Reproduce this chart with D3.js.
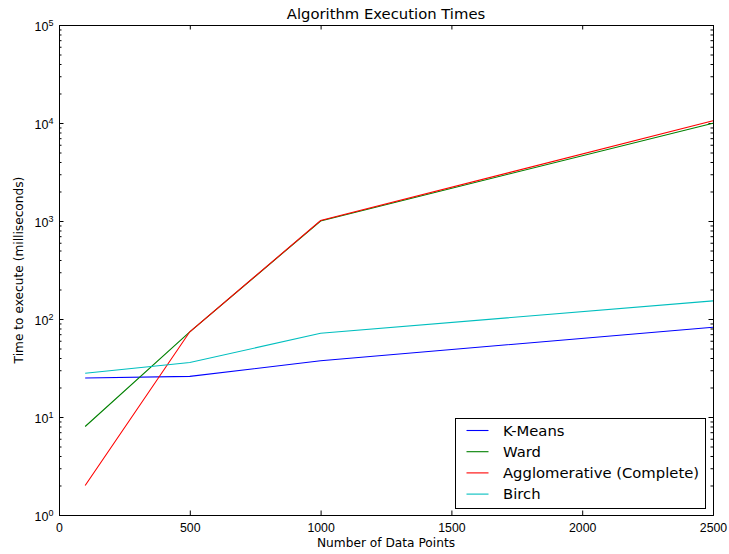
<!DOCTYPE html>
<html>
<head>
<meta charset="utf-8">
<script src="https://cdn.jsdelivr.net/npm/d3@7"></script>
<style>
  body { margin: 0; background: #fff; }
  svg { font-family: "DejaVu Sans", sans-serif; }
</style>
</head>
<body>
<div id="chart"></div>
<script>
const sizes = [100, 500, 1000, 2500]
const kmeans = [25, 26, 37.5, 82.5]
const ward = [8, 74, 1000, 9950]
const agglomerative = [2, 74, 1010, 10550]
const birch = [28, 36, 71.5, 153]

const seriesNames = ["K-Means", "Ward", "Agglomerative (Complete)", "Birch"]
const seriesValues = [kmeans, ward, agglomerative, birch]
const colors = ["#0000ff", "#008000", "#ff0000", "#00bfbf"]

const xTicks = [0, 500, 1000, 1500, 2000, 2500]
const yTicks = [1, 10, 100, 1000, 10000, 100000]

const width = 729
const height = 554
const margin = ({ top: 25, right: 16, bottom: 39, left: 59 })

const svg = d3.select("#chart").append("svg")
  .attr("width", width)
  .attr("height", height)
  .attr("viewBox", [0, 0, width, height])

const x = d3.scaleLinear()
  .domain([0, 2500])
  .range([margin.left, width - margin.right])

const y = d3.scaleLog()
  .domain([1, 100000])
  .range([height - margin.bottom, margin.top])

const minorY = []
yTicks.slice(0, -1).forEach(t => {
  for (let k = 2; k <= 9; k++) minorY.push(t * k)
})

const majorLen = 4.5
const minorLen = 2.5

// bottom + top axes (ticks point inward)
svg.append("g")
  .attr("transform", `translate(0,${height - margin.bottom})`)
  .call(d3.axisBottom(x).tickValues(xTicks).tickSize(-majorLen).tickPadding(majorLen + 4)
    .tickFormat(d3.format("d")))
  .call(g => g.selectAll("text").attr("font-size", 12.3).attr("fill", "#000"))

svg.append("g")
  .attr("transform", `translate(0,${margin.top})`)
  .call(d3.axisTop(x).tickValues(xTicks).tickSize(-majorLen).tickFormat(""))

// left axis
const yLeft = svg.append("g")
  .attr("transform", `translate(${margin.left},0)`)
  .call(d3.axisLeft(y).tickValues(yTicks).tickSize(-majorLen).tickFormat(""))

yLeft.selectAll(".tick").append("text")
  .attr("x", -5.5)
  .attr("y", 5)
  .attr("text-anchor", "end")
  .attr("fill", "#000")
  .attr("font-size", 12.5)
  .each(function (d) {
    const t = d3.select(this)
    t.append("tspan").text("10")
    t.append("tspan").attr("font-size", 9).attr("dy", -4.5).text(Math.round(Math.log10(d)))
  })

svg.append("g")
  .attr("transform", `translate(${margin.left},0)`)
  .call(d3.axisLeft(y).tickValues(minorY).tickSize(-minorLen).tickFormat(""))
  .call(g => g.select(".domain").remove())

// right axis
svg.append("g")
  .attr("transform", `translate(${width - margin.right},0)`)
  .call(d3.axisRight(y).tickValues(yTicks).tickSize(-majorLen).tickFormat(""))

svg.append("g")
  .attr("transform", `translate(${width - margin.right},0)`)
  .call(d3.axisRight(y).tickValues(minorY).tickSize(-minorLen).tickFormat(""))
  .call(g => g.select(".domain").remove())

svg.selectAll(".domain").attr("stroke", "#000")
svg.selectAll(".tick line").attr("stroke", "#000")

// lines
const line = d3.line()
  .x((d, i) => x(sizes[i]))
  .y(d => y(d))

seriesValues.forEach((vals, i) => {
  svg.append("path")
    .datum(vals)
    .attr("fill", "none")
    .attr("stroke", colors[i])
    .attr("stroke-width", 1.1)
    .attr("d", line)
})

// title & labels
svg.append("text")
  .attr("x", (margin.left + width - margin.right) / 2)
  .attr("y", 19)
  .attr("text-anchor", "middle")
  .attr("font-size", 14.8)
  .text("Algorithm Execution Times")

svg.append("text")
  .attr("x", (margin.left + width - margin.right) / 2)
  .attr("y", 547)
  .attr("text-anchor", "middle")
  .attr("font-size", 12.2)
  .text("Number of Data Points")

svg.append("text")
  .attr("transform", `translate(23,${(margin.top + height - margin.bottom) / 2}) rotate(-90)`)
  .attr("text-anchor", "middle")
  .attr("font-size", 12.2)
  .text("Time to execute (milliseconds)")

// legend
const legend = svg.append("g").attr("transform", "translate(455.5,418.5)")
legend.append("rect")
  .attr("width", 250)
  .attr("height", 90)
  .attr("fill", "#fff")
  .attr("stroke", "#000")

seriesNames.forEach((name, i) => {
  const row = legend.append("g").attr("transform", `translate(0,${12 + i * 21.2})`)
  row.append("line")
    .attr("x1", 11).attr("x2", 33)
    .attr("stroke", colors[i])
    .attr("stroke-width", 1.1)
  row.append("text")
    .attr("x", 47.5)
    .attr("y", 5)
    .attr("font-size", 14.8)
    .text(name)
})
</script>
</body>
</html>
